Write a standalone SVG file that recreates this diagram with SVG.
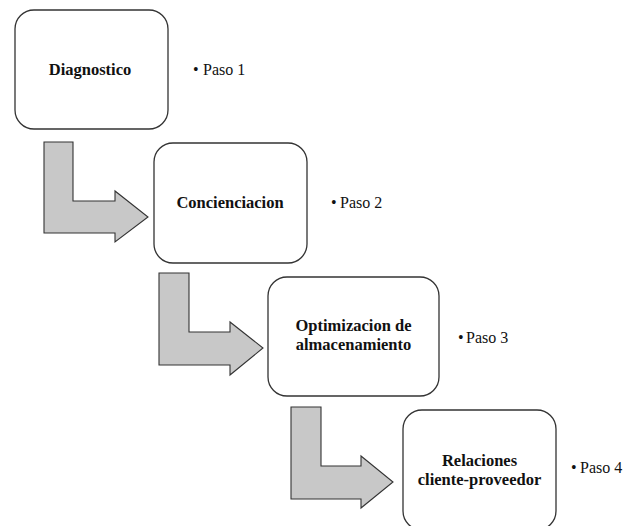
<svg xmlns="http://www.w3.org/2000/svg" width="636" height="526" viewBox="0 0 636 526">
<style>
.box{fill:#fff;stroke:#333;stroke-width:1.3}
.arr{fill:#c8c8c8;stroke:#333;stroke-width:1.1;stroke-linejoin:miter}
.t{font-family:"Liberation Serif","Times New Roman",serif;font-size:16.5px;font-weight:bold;fill:#111;text-anchor:middle}
.p{font-family:"Liberation Serif","Times New Roman",serif;font-size:16px;fill:#111}
</style>
<rect width="636" height="526" fill="#fff"/>
<g id="connectors">
<path class="arr" d="M44,142 L73,142 L73,201 L115,201 L115,191 L148,217 L115,242 L115,233 L44,233 Z"/>
<path class="arr" d="M159,273 L189,273 L189,332 L230,332 L230,322 L263,348 L230,375 L230,365 L159,365 Z"/>
<path class="arr" d="M291,407 L321,407 L321,466 L361,466 L361,456 L393,482 L361,508 L361,499 L291,499 Z"/>
</g>
<g id="node1">
<rect class="box" x="15" y="10" width="153" height="119" rx="19"/>
<text class="t" x="90" y="75">Diagnostico</text>
<text class="p" y="75"><tspan x="193">•</tspan><tspan x="203">Paso 1</tspan></text>
</g>
<g id="node2">
<rect class="box" x="154" y="143" width="153" height="120" rx="19"/>
<text class="t" x="230" y="208">Concienciacion</text>
<text class="p" y="208"><tspan x="331">•</tspan><tspan x="340">Paso 2</tspan></text>
</g>
<g id="node3">
<rect class="box" x="268" y="277" width="171" height="119" rx="19"/>
<text class="t" x="353.5" y="331">Optimizacion de</text>
<text class="t" x="353.5" y="350">almacenamiento</text>
<text class="p" y="343"><tspan x="458">•</tspan><tspan x="466">Paso 3</tspan></text>
</g>
<g id="node4">
<rect class="box" x="403" y="410" width="153" height="120" rx="19"/>
<text class="t" x="479.5" y="466">Relaciones</text>
<text class="t" x="479.5" y="485">cliente-proveedor</text>
<text class="p" y="473"><tspan x="571">•</tspan><tspan x="580">Paso 4</tspan></text>
</g>
</svg>
